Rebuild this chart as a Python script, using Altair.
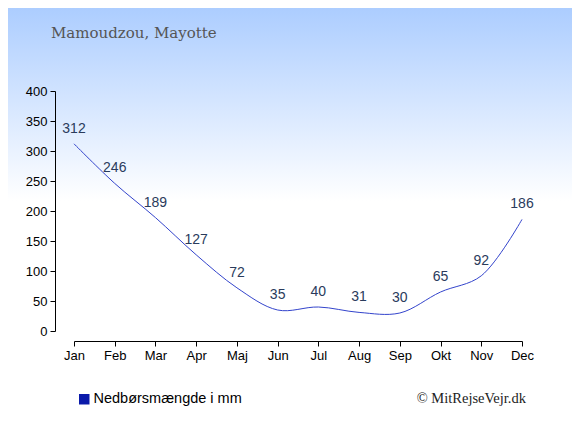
import altair as alt
import pandas as pd

months = ["Jan", "Feb", "Mar", "Apr", "Maj", "Jun", "Jul", "Aug", "Sep", "Okt", "Nov", "Dec"]
rain = [312, 246, 189, 127, 72, 35, 40, 31, 30, 65, 92, 186]
y_ticks = [0, 50, 100, 150, 200, 250, 300, 350, 400]
series_name = "Nedbørsmængde i mm"

df = pd.DataFrame({"month": months, "rain": rain, "series": [series_name] * len(months)})

W, H = 448, 240
PL, PT = 66, 83
TOTW, TOTH = 564, 419

bg = alt.Chart(pd.DataFrame({"a": [0]})).mark_rect(
    color=alt.Gradient(
        gradient="linear",
        stops=[
            alt.GradientStop(color="#ACCDFF", offset=0),
            alt.GradientStop(color="#FFFFFF", offset=0.46),
            alt.GradientStop(color="#FFFFFF", offset=1),
        ],
        x1=0, x2=0, y1=0, y2=1,
    )
).encode(
    x=alt.value(-PL), x2=alt.value(TOTW - PL),
    y=alt.value(-PT), y2=alt.value(TOTH - PT),
)

xenc = alt.X("month:N", sort=months, scale=alt.Scale(type="point", padding=0),
             axis=alt.Axis(title=None, offset=10, labelAngle=0, domainColor="black",
                           tickColor="black", tickSize=5, labelColor="black",
                           labelFont="Liberation Sans", labelFontSize=13, labelPadding=3,
                           labelOverlap=False, grid=False, zindex=1))
yenc = alt.Y("rain:Q", scale=alt.Scale(domain=[0, 400], nice=False),
             axis=alt.Axis(title=None, offset=19, values=y_ticks, tickCount=20,
                           domainColor="black", tickColor="black", tickSize=5,
                           labelColor="black", labelFont="Liberation Sans",
                           labelFontSize=13, labelPadding=3, labelOverlap=False,
                           labelFlush=False, grid=False, zindex=1))

line = alt.Chart(df).mark_line(interpolate="catmull-rom", strokeWidth=1, color="#3344CC").encode(
    x=xenc, y=yenc,
)

legend_layer = alt.Chart(df).mark_square(opacity=0, size=1).encode(
    x=xenc, y=yenc,
    color=alt.Color("series:N", scale=alt.Scale(range=["#0A1AAA"]),
                    legend=alt.Legend(title=None, orient="none", legendX=3, legendY=301,
                                      symbolType="square", symbolSize=110,
                                      symbolFillColor="#0A1AAA", symbolStrokeWidth=0,
                                      symbolOpacity=1,
                                      labelFont="Liberation Sans", labelFontSize=14.5,
                                      labelColor="black", labelOffset=2, zindex=1)),
)

labels = alt.Chart(df).mark_text(dy=-11, fontSize=14, font="Liberation Sans",
                                 color="#2A3B5C", baseline="alphabetic").encode(
    x=xenc, y=yenc, text="rain:Q")

title = alt.Chart(pd.DataFrame({"t": ["Mamoudzou, Mayotte"]})).mark_text(
    font="DejaVu Serif", fontSize=15, color="#555555", align="left", baseline="alphabetic"
).encode(x=alt.value(51 - 74), y=alt.value(38 - 91), text="t:N")

copy = alt.Chart(pd.DataFrame({"t": ["© MitRejseVejr.dk"]})).mark_text(
    font="Liberation Serif", fontSize=14.5, color="#222222", align="right", baseline="alphabetic"
).encode(x=alt.value(526 - 74), y=alt.value(403 - 91), text="t:N")

chart = alt.layer(bg, line, legend_layer, labels, title, copy).properties(
    width=W, height=H,
    autosize=alt.AutoSizeParams(type="none"),
    padding={"left": PL, "top": PT, "right": TOTW - PL - W, "bottom": TOTH - PT - H},
).configure_view(stroke=None).configure(background="white")

chart.save("out.html", embed_options={"renderer": "svg", "actions": False})
